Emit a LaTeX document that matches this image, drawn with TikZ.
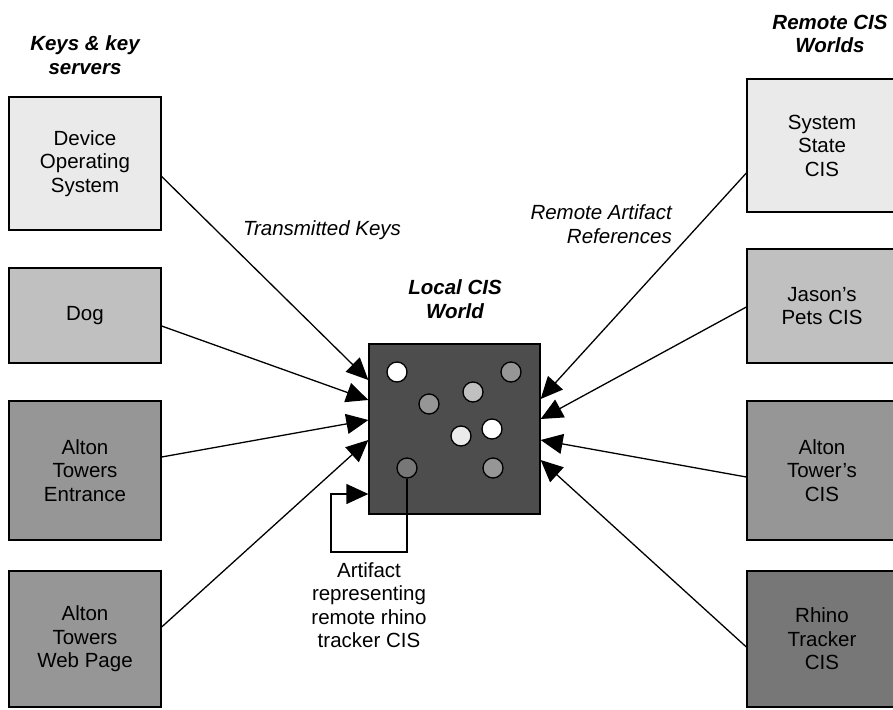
\documentclass[tikz,border=0pt]{standalone}
\usepackage{fontspec}
\setmainfont{Liberation Sans}
\usetikzlibrary{arrows.meta,calc}
\definecolor{g1}{HTML}{EAEAEA}
\definecolor{g2}{HTML}{C0C0C0}
\definecolor{g3}{HTML}{969696}
\definecolor{g4}{HTML}{777777}
\definecolor{g5}{HTML}{4D4D4D}
\tikzset{
  txt/.style={font=\fontsize{20.5}{23.5}\selectfont, align=center, inner sep=0pt},
  box/.style={draw=black, line width=1.3pt, txt},
  lbox/.style={box, minimum width=152pt},
  rbox/.style={box, minimum width=150pt},
  ttl/.style={txt, font=\fontsize{20.5}{23.5}\selectfont\bfseries\itshape},
  lab/.style={txt, font=\fontsize{20.5}{23.5}\selectfont\itshape},
  dot/.style={circle, draw=black, line width=1.3pt, minimum size=20pt, inner sep=0pt},
  arr/.style={line width=1.3pt, -{Triangle[length=22pt,width=20pt]}},
}
\begin{document}
\begin{tikzpicture}[x=1pt,y=-1pt]
\useasboundingbox (0,0) rectangle (893,709);
\clip (0,0) rectangle (893,709);
\fill[white] (0,0) rectangle (893,709);
% titles
\node[ttl] (tl) at (85,55) {Keys \& key\\servers};
\node[ttl] (tr) at (830,34) {Remote CIS\\Worlds};
\node[ttl] (tc) at (455,299) {Local CIS\\World};
\node[lab] (tk) at (322,230) {Transmitted Keys};
\node[lab, align=right, anchor=east] (ra) at (672,224) {Remote Artifact\\References};
% left boxes
\node[lbox, fill=g1, minimum height=133pt] (dos) at (85,163.5) {Device\\Operating\\System};
\node[lbox, fill=g2, minimum height=95pt] (dog) at (85,315.5) {Dog};
\node[lbox, fill=g3, minimum height=139pt] (ent) at (85,470.5) {Alton\\Towers\\Entrance};
\node[lbox, fill=g3, minimum height=136pt] (web) at (85,639) {Alton\\Towers\\Web Page};
% right boxes
\node[rbox, fill=g1, minimum height=133pt] (sys) at (822,145.5) {System\\State\\CIS};
\node[rbox, fill=g2, minimum height=114pt] (jas) at (822,306) {Jason’s\\Pets CIS};
\node[rbox, fill=g3, minimum height=139pt] (alt) at (822,470.5) {Alton\\Tower’s\\CIS};
\node[rbox, fill=g4, minimum height=136pt] (rhi) at (822,639) {Rhino\\Tracker\\CIS};
% local world
\node[draw=black, line width=1.3pt, fill=g5, minimum width=171pt, minimum height=170pt, inner sep=0pt] (local) at (454.5,429) {};
\node[dot, fill=white] (c1) at (397,372) {};
\node[dot, fill=g3] (c2) at (511,372) {};
\node[dot, fill=g2] (c3) at (473,392) {};
\node[dot, fill=g3] (c4) at (429,404) {};
\node[dot, fill=white] (c5) at (492,429) {};
\node[dot, fill=g1] (c6) at (461,436) {};
\node[dot, fill=g4] (c7) at (407,468) {};
\node[dot, fill=g3] (c8) at (493,468) {};
% arrows from left
\draw[arr] ($(dos.east)+(0,13)$) -- ($(local.west)+(0,-49)$);
\draw[arr] ($(dog.east)+(0,10.5)$) -- ($(local.west)+(0,-29)$);
\draw[arr] ($(ent.east)+(0,-13.5)$) -- ($(local.west)+(0,-9)$);
\draw[arr] ($(web.east)+(0,-12)$) -- ($(local.west)+(0,11)$);
% arrows from right
\draw[arr] ($(sys.west)+(0,27.5)$) -- ($(local.east)+(0,-30)$);
\draw[arr] ($(jas.west)+(0,1)$) -- ($(local.east)+(0,-10)$);
\draw[arr] ($(alt.west)+(0,6.5)$) -- ($(local.east)+(0,11)$);
\draw[arr] ($(rhi.west)+(0,8)$) -- ($(local.east)+(0,31)$);
% self loop
\coordinate (lp) at (331,552);
\draw[arr] (c7.south) |- (lp) |- ($(local.west)+(0,65)$);
\node[txt] (art) at (369,605) {Artifact\\representing\\remote rhino\\tracker CIS};
\end{tikzpicture}
\end{document}
